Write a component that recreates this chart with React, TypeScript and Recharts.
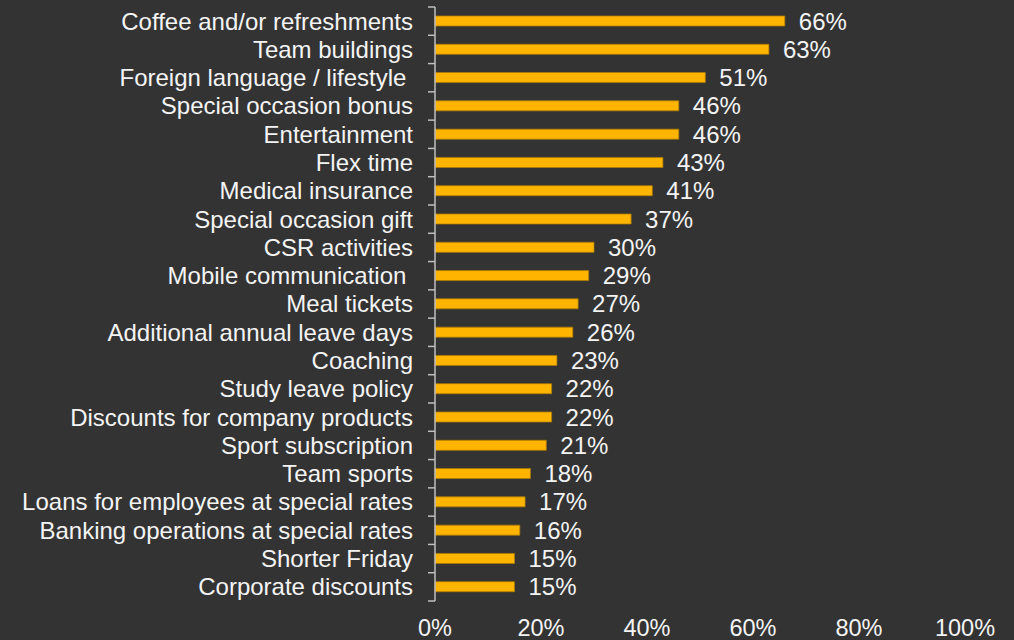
import { BarChart, Bar, XAxis, YAxis, LabelList } from "recharts";

const categories = [
  "Coffee and/or refreshments",
  "Team buildings",
  "Foreign language / lifestyle ",
  "Special occasion bonus",
  "Entertainment",
  "Flex time",
  "Medical insurance",
  "Special occasion gift",
  "CSR activities",
  "Mobile communication ",
  "Meal tickets",
  "Additional annual leave days",
  "Coaching",
  "Study leave policy",
  "Discounts for company products",
  "Sport subscription",
  "Team sports",
  "Loans for employees at special rates",
  "Banking operations at special rates",
  "Shorter Friday",
  "Corporate discounts",
];

const shares = [66, 63, 51, 46, 46, 43, 41, 37, 30, 29, 27, 26, 23, 22, 22, 21, 18, 17, 16, 15, 15];

const xTicks = [0, 20, 40, 60, 80, 100];

const data = categories.map((name, i) => ({ name, value: shares[i] }));

const FONT = "'Liberation Sans', Arial, sans-serif";
const TOP = 7;
const PLOT_H = 594;
const BAND = PLOT_H / categories.length;

// category label + bracket-style tick lines on band boundaries
function CategoryTick(props: any) {
  const { x, y, payload, index } = props;
  const axisX = x + 22;
  const last = index === categories.length - 1;
  return (
    <g>
      <text
        x={x}
        y={y}
        dy="0.35em"
        textAnchor="end"
        fill="#f4f4f4"
        fontSize={24}
        fontFamily={FONT}
        style={{ whiteSpace: "pre" }}
      >
        {payload.value}
      </text>
      <line x1={axisX - 7} x2={axisX} y1={y - BAND / 2} y2={y - BAND / 2} stroke="#bfbfbf" strokeWidth={1.5} />
      {last && (
        <line x1={axisX - 7} x2={axisX} y1={y + BAND / 2} y2={y + BAND / 2} stroke="#bfbfbf" strokeWidth={1.5} />
      )}
    </g>
  );
}

export default function App() {
  return (
    <div
      style={{
        position: "fixed",
        left: 0,
        top: 0,
        width: 1014,
        height: 640,
        background: "#333333",
      }}
    >
      <BarChart
        width={1014}
        height={640}
        data={data}
        layout="vertical"
        margin={{ top: TOP, right: 49, bottom: 0, left: 0 }}
        barCategoryGap={0}
      >
        <XAxis
          type="number"
          domain={[0, 100]}
          ticks={xTicks}
          tickFormatter={(v: number) => `${v}%`}
          axisLine={false}
          tickLine={false}
          tickMargin={12}
          height={39}
          interval={0}
          tick={{ fill: "#f4f4f4", fontSize: 23.5, fontFamily: FONT }}
        />
        <YAxis
          type="category"
          dataKey="name"
          width={435}
          interval={0}
          axisLine={{ stroke: "#bfbfbf", strokeWidth: 1.5 }}
          tickLine={false}
          tickSize={0}
          tickMargin={22}
          tick={<CategoryTick />}
        />
        <Bar
          dataKey="value"
          fill="#ffb400"
          stroke="#b07c00"
          strokeWidth={0.75}
          barSize={10}
          isAnimationActive={false}
        >
          <LabelList
            dataKey="value"
            position="right"
            offset={14}
            formatter={(v: any) => `${v}%`}
            fill="#f4f4f4"
            fontSize={24}
            fontFamily={FONT}
          />
        </Bar>
      </BarChart>
    </div>
  );
}
